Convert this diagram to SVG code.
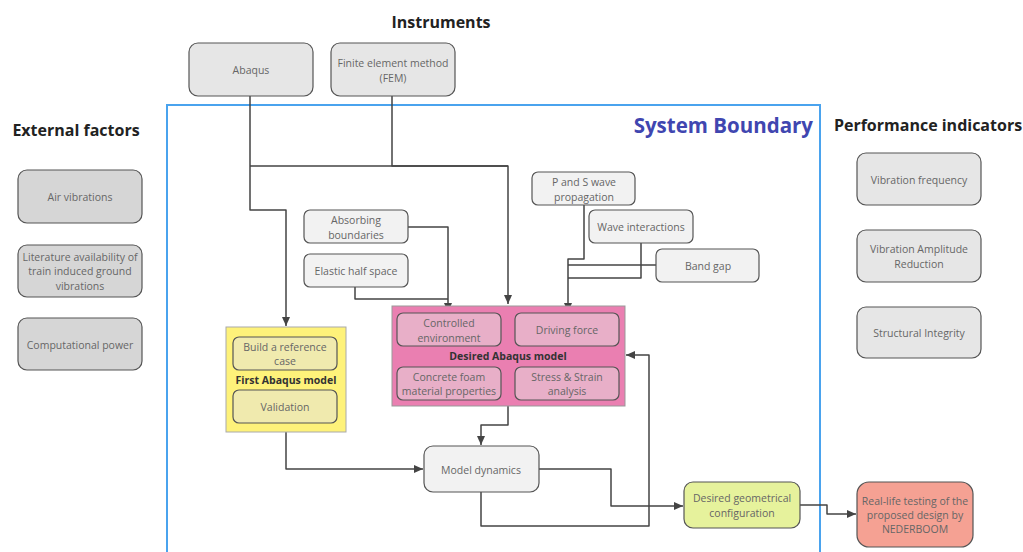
<svg xmlns="http://www.w3.org/2000/svg" width="1023" height="552" viewBox="0 0 1023 552">
<defs>
<marker id="arr" markerUnits="userSpaceOnUse" markerWidth="10" markerHeight="10" viewBox="0 0 10 10" refX="9" refY="5" orient="auto">
<path d="M0,1 L9,5 L0,9 Z" fill="#444"/>
</marker>
<style>
.t{font-family:"Open Sans","Liberation Sans",sans-serif;font-size:10.5px;fill:#666;text-anchor:middle;dominant-baseline:central}
.h{font-family:"Open Sans","Liberation Sans",sans-serif;font-size:16px;font-weight:bold;fill:#222;text-anchor:middle;dominant-baseline:central}
.b{font-family:"Open Sans","Liberation Sans",sans-serif;font-size:10.5px;font-weight:bold;fill:#333;text-anchor:middle;dominant-baseline:central}
.g{fill:#e6e6e6;stroke:#555;stroke-width:1.2}
.d{fill:#d6d6d6;stroke:#555;stroke-width:1.2}
.l{fill:#f2f2f2;stroke:#555;stroke-width:1.2}
.p{fill:#e8afc8;stroke:#555;stroke-width:1.2}
.y{fill:#f0eaae;stroke:#555;stroke-width:1.2}
.c{fill:none;stroke:#444;stroke-width:1.5;stroke-linejoin:round}
</style>
</defs>
<rect width="1023" height="552" fill="#fff"/>

<g id="titles">
<text class="h" x="441" y="22">Instruments</text>
<text class="h" x="76" y="130">External factors</text>
<text class="h" x="928" y="125">Performance indicators</text>
</g>

<g id="system-boundary">
<rect x="167" y="105" width="653" height="460" fill="none" stroke="#4aa3ee" stroke-width="2"/>
<text x="813" y="125" font-family="'Open Sans','Liberation Sans',sans-serif" font-size="20.5" font-weight="bold" fill="#4046b0" text-anchor="end" dominant-baseline="central">System Boundary</text>
</g>

<g id="connectors">
<path class="c" d="M250,96 V210 H286 V326" marker-end="url(#arr)"/>
<path class="c" d="M250,166 H508 V304" marker-end="url(#arr)"/>
<path class="c" d="M392,96 V166 H508"/>
<path class="c" d="M408,227 H448 V312" marker-end="url(#arr)"/>
<path class="c" d="M355,287 V299 H448"/>
<path class="c" d="M584,205 V259 H568 V312" marker-end="url(#arr)"/>
<path class="c" d="M641,243 V278 H568"/>
<path class="c" d="M656,265 H568"/>
<path class="c" d="M508,406 V425 H481 V445" marker-end="url(#arr)"/>
<path class="c" d="M286,432 V469 H423" marker-end="url(#arr)"/>
<path class="c" d="M539,469 H611 V506 H683" marker-end="url(#arr)"/>
<path class="c" d="M481,492 V526 H649 V355 H626" marker-end="url(#arr)"/>
<path class="c" d="M800,505 H827 V514 H856" marker-end="url(#arr)"/>
</g>

<g id="abaqus"><rect class="g" x="189" y="43" width="124" height="53" rx="9"/><text class="t" x="251" y="70">Abaqus</text></g>
<g id="fem"><rect class="g" x="331" y="43" width="124" height="53" rx="9"/><text class="t" x="393" y="63">Finite element method</text><text class="t" x="393" y="78">(FEM)</text></g>

<g id="air-vibrations"><rect class="d" x="18" y="170" width="124" height="53" rx="9"/><text class="t" x="80" y="197">Air vibrations</text></g>
<g id="literature"><rect class="d" x="18" y="245" width="124" height="52" rx="9"/><text class="t" x="80" y="257">Literature availability of</text><text class="t" x="80" y="271">train induced ground</text><text class="t" x="80" y="286">vibrations</text></g>
<g id="computational-power"><rect class="d" x="18" y="318" width="124" height="52" rx="9"/><text class="t" x="80" y="345">Computational power</text></g>

<g id="vibration-frequency"><rect class="g" x="857" y="153" width="124" height="52" rx="9"/><text class="t" x="919" y="180">Vibration frequency</text></g>
<g id="vibration-amplitude"><rect class="g" x="857" y="230" width="124" height="52" rx="9"/><text class="t" x="919" y="249">Vibration Amplitude</text><text class="t" x="919" y="264">Reduction</text></g>
<g id="structural-integrity"><rect class="g" x="857" y="307" width="124" height="51" rx="9"/><text class="t" x="919" y="333">Structural Integrity</text></g>

<g id="absorbing-boundaries"><rect class="l" x="304" y="210" width="104" height="33" rx="6"/><text class="t" x="356" y="220">Absorbing</text><text class="t" x="356" y="235">boundaries</text></g>
<g id="elastic-half-space"><rect class="l" x="304" y="254" width="104" height="33" rx="6"/><text class="t" x="356" y="271">Elastic half space</text></g>
<g id="p-s-wave"><rect class="l" x="532" y="172" width="103" height="33" rx="6"/><text class="t" x="584" y="182">P and S wave</text><text class="t" x="584" y="197">propagation</text></g>
<g id="wave-interactions"><rect class="l" x="589" y="210" width="104" height="33" rx="6"/><text class="t" x="641" y="227">Wave interactions</text></g>
<g id="band-gap"><rect class="l" x="656" y="249" width="103" height="33" rx="6"/><text class="t" x="708" y="266">Band gap</text></g>

<g id="desired-abaqus-model">
<rect x="392" y="306" width="233" height="100" fill="#ea7fb1" stroke="#999" stroke-width="1"/>
<text class="b" x="508" y="356">Desired Abaqus model</text>
<g id="controlled-environment"><rect class="p" x="397" y="313" width="104" height="33" rx="6"/><text class="t" x="449" y="323">Controlled</text><text class="t" x="449" y="338">environment</text></g>
<g id="driving-force"><rect class="p" x="515" y="313" width="104" height="33" rx="6"/><text class="t" x="567" y="330">Driving force</text></g>
<g id="concrete-foam"><rect class="p" x="397" y="367" width="104" height="33" rx="6"/><text class="t" x="449" y="377">Concrete foam</text><text class="t" x="449" y="391">material properties</text></g>
<g id="stress-strain"><rect class="p" x="515" y="367" width="104" height="33" rx="6"/><text class="t" x="567" y="377">Stress &amp; Strain</text><text class="t" x="567" y="391">analysis</text></g>
</g>

<g id="first-abaqus-model">
<rect x="226" y="327" width="120" height="105" fill="#fef27a" stroke="#aaa" stroke-width="1"/>
<text class="b" x="286" y="380">First Abaqus model</text>
<g id="reference-case"><rect class="y" x="233" y="337" width="104" height="33" rx="6"/><text class="t" x="285" y="347">Build a reference</text><text class="t" x="285" y="361">case</text></g>
<g id="validation"><rect class="y" x="233" y="390" width="104" height="33" rx="6"/><text class="t" x="285" y="407">Validation</text></g>
</g>

<g id="model-dynamics"><rect class="l" x="424" y="446" width="115" height="46" rx="9"/><text class="t" x="481" y="470">Model dynamics</text></g>
<g id="desired-geometrical"><rect x="684" y="482" width="116" height="46" rx="9" fill="#e6f29c" stroke="#555" stroke-width="1.2"/><text class="t" x="742" y="498">Desired geometrical</text><text class="t" x="742" y="513">configuration</text></g>
<g id="real-life-testing"><rect x="857" y="482" width="116" height="65" rx="12" fill="#f5a193" stroke="#555" stroke-width="1.2"/><text class="t" x="915" y="501">Real-life testing of the</text><text class="t" x="915" y="515">proposed design by</text><text class="t" x="915" y="529">NEDERBOOM</text></g>
</svg>
